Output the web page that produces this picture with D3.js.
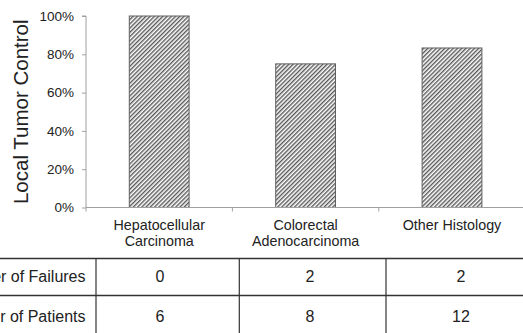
<!DOCTYPE html>
<html>
<head>
<meta charset="utf-8">
<script src="https://cdn.jsdelivr.net/npm/d3@7"></script>
<style>
  html, body { margin: 0; padding: 0; background: #fff; }
  svg { display: block; font-family: "Liberation Sans", Arial, Helvetica, sans-serif; }
</style>
</head>
<body>
<svg id="chart" width="523" height="333"></svg>
<script>
// ---- data ----
const categories = [["Hepatocellular", "Carcinoma"], ["Colorectal", "Adenocarcinoma"], ["Other Histology"]];
const tumorControl = [1.00, 0.75, 0.833];
const yTicks = [0, 0.2, 0.4, 0.6, 0.8, 1.0];
const tableRows = ["Number of Failures", "Number of Patients"];
const failures = [0, 2, 2];
const patients = [6, 8, 12];

// ---- layout ----
const W = 523, H = 333;
const svg = d3.select("#chart");
const keys = categories.map((c, i) => i);

const x = d3.scaleBand().domain(keys).range([86, 525.2]).paddingInner(0.5915).paddingOuter(0.29575);
const y = d3.scaleLinear().domain([0, 1]).range([207.5, 16]);

// hatch pattern
const defs = svg.append("defs");
const pat = defs.append("pattern")
  .attr("id", "hatch").attr("patternUnits", "userSpaceOnUse")
  .attr("width", 3).attr("height", 3)
  .attr("patternTransform", "rotate(45)");
pat.append("rect").attr("width", 3).attr("height", 3).attr("fill", "#fff");
pat.append("line").attr("x1", 0.75).attr("y1", 0).attr("x2", 0.75).attr("y2", 3)
  .attr("stroke", "#3a3a3a").attr("stroke-width", 1.2);

// bars
svg.append("g").selectAll("rect").data(tumorControl).join("rect")
  .attr("x", (d, i) => x(i))
  .attr("y", d => y(d))
  .attr("width", x.bandwidth())
  .attr("height", d => y(0) - y(d))
  .attr("fill", "url(#hatch)")
  .attr("stroke", "#606060")
  .attr("stroke-width", 1);

// y axis
const yAxis = svg.append("g").attr("transform", "translate(86,0)")
  .call(d3.axisLeft(y).tickValues(yTicks).tickFormat(d3.format(".0%")).tickSize(4).tickPadding(8));
yAxis.select(".domain").attr("stroke", "#a0a0a0").attr("d", `M-4,${y(1)}H0V${y(0)}`);
yAxis.selectAll(".tick line").attr("stroke", "#a0a0a0");
yAxis.selectAll(".tick text").attr("fill", "#222").style("font-size", "13.5px")
  .style("font-family", '"Liberation Sans", Arial, sans-serif');

// x axis
const xAxisG = svg.append("g").attr("transform", `translate(0,${y(0)})`);
xAxisG.append("line").attr("x1", 86).attr("x2", W).attr("y1", 0).attr("y2", 0)
  .attr("stroke", "#a0a0a0").attr("stroke-width", 1);
xAxisG.selectAll("line.tk").data(keys).join("line").attr("class", "tk")
  .attr("x1", i => x(i) - x.step() * x.paddingInner() / 2)
  .attr("x2", i => x(i) - x.step() * x.paddingInner() / 2)
  .attr("y1", 0).attr("y2", 4).attr("stroke", "#a0a0a0");
const catText = xAxisG.selectAll("text.cat").data(categories).join("text").attr("class", "cat")
  .attr("text-anchor", "middle")
  .attr("fill", "#222")
  .style("font-size", "14.3px")
  .attr("transform", (d, i) => `translate(${x(i) + x.bandwidth() / 2},0)`);
catText.selectAll("tspan").data(d => d).join("tspan")
  .attr("x", 0).attr("y", (d, j) => 22.5 + j * 15.5).text(d => d);

// y axis title
svg.append("text")
  .attr("transform", `translate(28,${(y(0) + y(1)) / 2}) rotate(-90)`)
  .attr("text-anchor", "middle")
  .attr("fill", "#222")
  .style("font-size", "20.5px")
  .text("Local Tumor Control");

// ---- table ----
const colLines = [96, 239.3, 386];
const rowTop = [258.5, 295.5];
const colCenters = [160, 310, 461];
const rowBase = [281.5, 321.5];
const tbl = svg.append("g");
tbl.selectAll("line.h").data(rowTop).join("line").attr("class", "h")
  .attr("x1", 0).attr("x2", W).attr("y1", d => d).attr("y2", d => d)
  .attr("stroke", "#333").attr("stroke-width", 1.4);
tbl.selectAll("line.v").data(colLines).join("line").attr("class", "v")
  .attr("x1", d => d).attr("x2", d => d).attr("y1", rowTop[0]).attr("y2", H)
  .attr("stroke", "#333").attr("stroke-width", 1.2);
tbl.selectAll("text.rl").data(tableRows).join("text").attr("class", "rl")
  .attr("x", 85.5).attr("y", (d, i) => rowBase[i])
  .attr("text-anchor", "end").attr("fill", "#222").style("font-size", "16px")
  .text(d => d);
[failures, patients].forEach((row, r) => {
  tbl.selectAll(`text.c${r}`).data(row).join("text").attr("class", `c${r}`)
    .attr("x", (d, i) => colCenters[i]).attr("y", rowBase[r])
    .attr("text-anchor", "middle").attr("fill", "#222").style("font-size", "16px")
    .text(d => d);
});
</script>
</body>
</html>
